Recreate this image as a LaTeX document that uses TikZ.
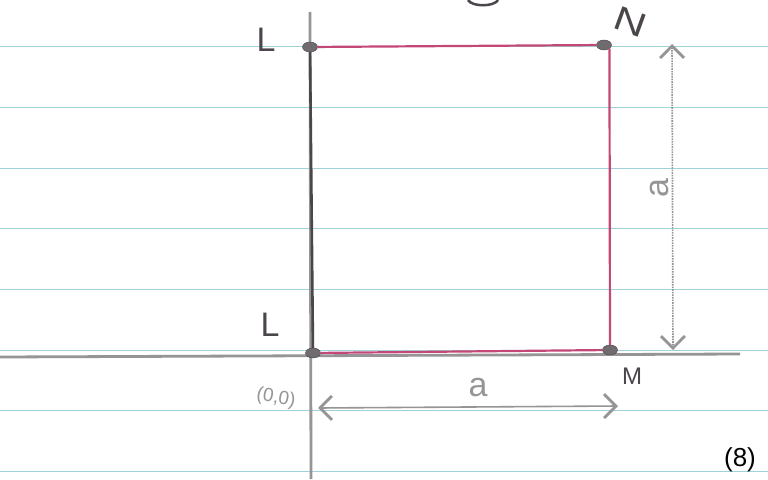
\documentclass[tikz,border=0pt]{standalone}
\usepackage{fontspec}
\setmainfont{Liberation Sans}
\usepackage{xcolor}
\usepackage{tikz}
\usetikzlibrary{arrows.meta,positioning,shapes.geometric}

\definecolor{ruleblue}{RGB}{160,210,218}
\definecolor{ink}{RGB}{75,70,75}
\definecolor{redink}{RGB}{196,72,118}
\definecolor{pencil}{RGB}{150,148,150}

\begin{document}
\begin{tikzpicture}[x=1pt, y=-1pt,
  rule/.style={ruleblue, line width=1pt},
  axis/.style={pencil, line width=2.8pt},
  edge/.style={redink, line width=2.2pt},
  corner/.style={draw=ink, fill=ink!80, ellipse, inner sep=0pt, minimum width=15pt, minimum height=10pt},
  dim/.style={pencil, line width=1.6pt, {Straight Barb[length=12pt,width=24pt,line width=2.8pt]}-{Straight Barb[length=12pt,width=24pt,line width=2.8pt]}},
  bigl/.style={ink, font=\fontsize{34}{34}\selectfont},
  smallt/.style={pencil, font=\fontsize{34}{34}\selectfont}
]
\useasboundingbox (0,0) rectangle (768,479);
\fill[white] (0,0) rectangle (768,479);

% ruled paper
\foreach \y in {46,107,168,228,289,350,410,471}
  \draw[rule] (0,\y) -- (768,\y);

% axes
\coordinate (ytop) at (310,12);
\coordinate (ybot) at (311,479);
\coordinate (xleft) at (0,357);
\coordinate (xright) at (740,354);
\draw[axis] (ytop) -- (ybot);
\draw[axis] (xleft) -- (xright);

% corners
\node[corner] (LT) at (310,47) {};
\node[corner] (NT) at (604,45) {};
\node[corner] (MB) at (610,350) {};
\node[corner] (LB) at (313,353) {};

% square
\draw[ink, line width=2.6pt] (LT) -- (LB);
\draw[edge] (LT) -- (NT);
\draw[edge] (NT.south east) -- (MB);
\draw[edge] (MB) -- (LB);

% dimensions
\coordinate (vtop) at (672,44);
\coordinate (vbot) at (673,350);
\draw[dim, densely dotted] (vtop) -- (vbot);
\coordinate (hleft) at (318,408);
\coordinate (hright) at (618,406);
\draw[dim] (hleft) -- (hright);

% labels
\node[bigl] (lt) at (266,40) {L};
\node[bigl] (lb) at (270,325) {L};
\node[ink, font=\fontsize{34}{34}\selectfont, rotate=-20, xscale=1.3] (nl) at (630,22) {N};
\node[ink, font=\fontsize{24}{24}\selectfont] (ml) at (632,376) {M};
\node[smallt, rotate=90] (av) at (660,188) {a};
\node[smallt] (ah) at (478,388) {a};
\node[pencil, font=\fontsize{19}{19}\selectfont, rotate=-10, inner sep=0pt] (orig) at (276,398) {(0,0)};
\node[black, font=\fontsize{26}{26}\selectfont] (num) at (740,460) {(8)};

% letter cut off at the top
\draw[ink, line width=2.5pt] (468,0) .. controls (472,7) and (494,7) .. (498,0);
\end{tikzpicture}
\end{document}
